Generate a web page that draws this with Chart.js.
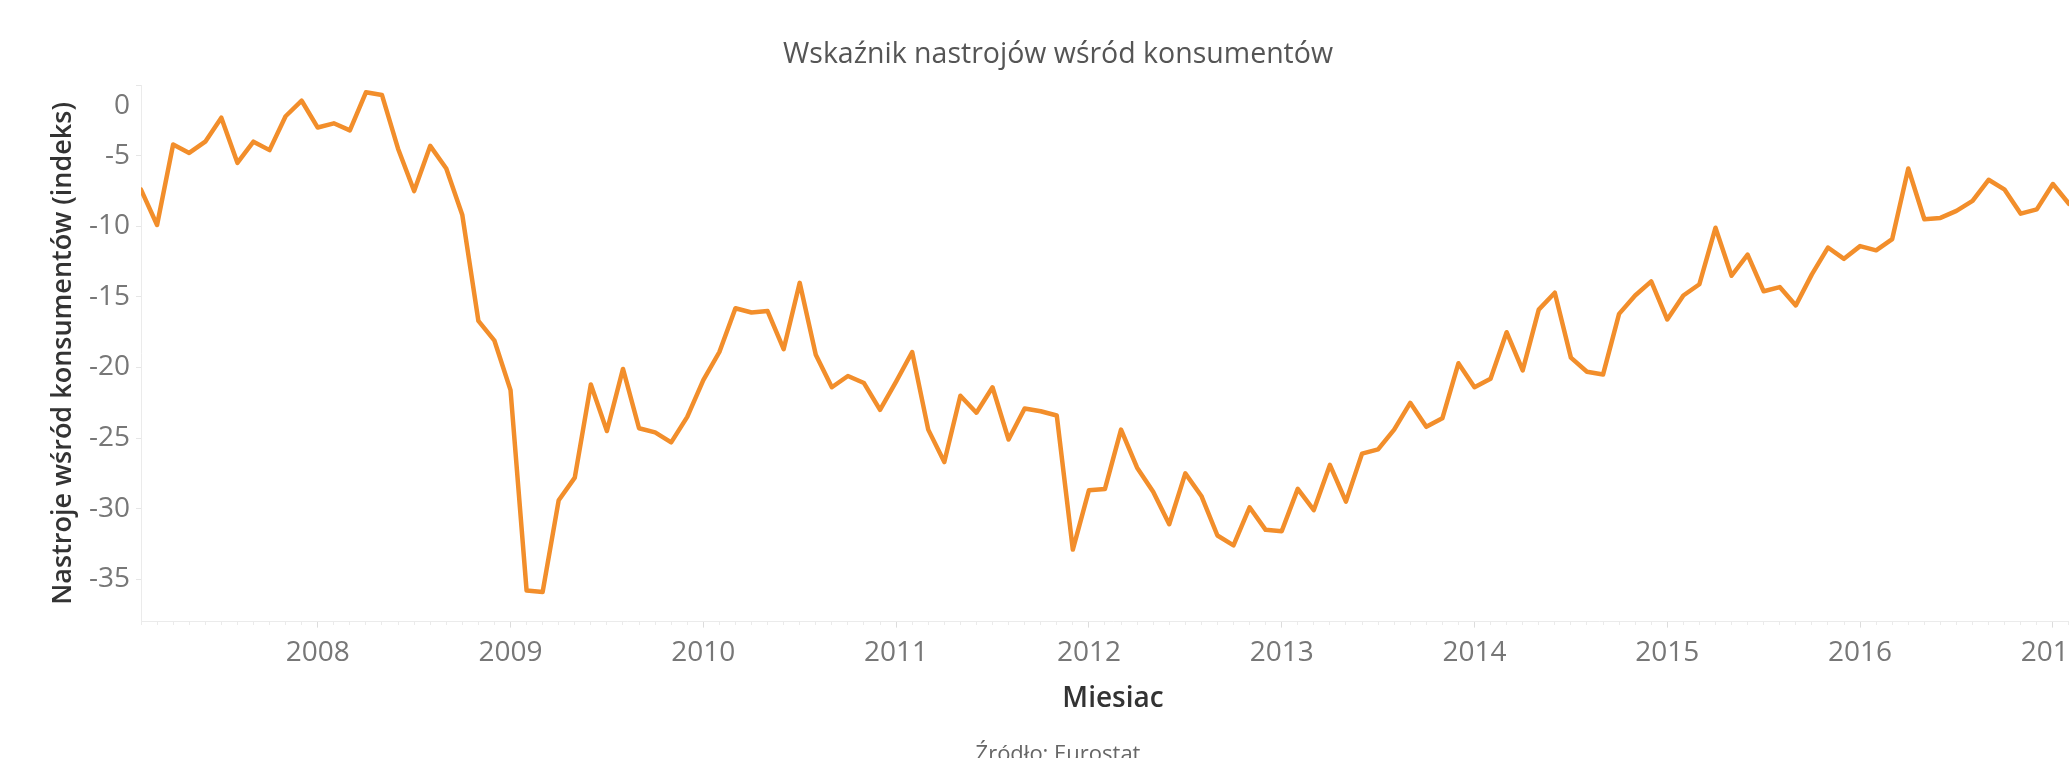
<!DOCTYPE html>
<html lang="pl">
<head>
<meta charset="utf-8">
<title>Wskaźnik nastrojów wśród konsumentów</title>
<script src="https://cdn.jsdelivr.net/npm/chart.js@4"></script>
<style>
  html, body { margin: 0; padding: 0; background: #fff; overflow: hidden; }
  #wrap { position: absolute; left: 0; top: 0; width: 2116px; height: 780px; }
</style>
</head>
<body>
<div id="wrap"><canvas id="chart" width="2116" height="780"></canvas></div>
<script>
// monthly series, first value = Feb 2007
const startYear = 2007;
const startMonth = 2;
const values = [
  -7.4, -9.9, -4.2, -4.8, -4.0, -2.3, -5.5, -4.0, -4.6, -2.2, -1.1,
  -3.0, -2.7, -3.2, -0.5, -0.7, -4.5, -7.5, -4.3, -5.9, -9.2, -16.7, -18.1,
  -21.6, -35.8, -35.9, -29.4, -27.8, -21.2, -24.5, -20.1, -24.3, -24.6, -25.3, -23.5,
  -20.9, -18.9, -15.8, -16.1, -16.0, -18.7, -14.0, -19.1, -21.4, -20.6, -21.1, -23.0,
  -21.0, -18.9, -24.4, -26.7, -22.0, -23.2, -21.4, -25.1, -22.9, -23.1, -23.4, -32.9,
  -28.7, -28.6, -24.4, -27.1, -28.8, -31.1, -27.5, -29.1, -31.9, -32.6, -29.9, -31.5,
  -31.6, -28.6, -30.1, -26.9, -29.5, -26.1, -25.8, -24.4, -22.5, -24.2, -23.6, -19.7,
  -21.4, -20.8, -17.5, -20.2, -15.9, -14.7, -19.3, -20.3, -20.5, -16.2, -14.9, -13.9,
  -16.6, -14.9, -14.1, -10.1, -13.5, -12.0, -14.6, -14.3, -15.6, -13.4, -11.5, -12.3,
  -11.4, -11.7, -10.9, -5.9, -9.5, -9.4, -8.9, -8.2, -6.7, -7.4, -9.1, -8.8,
  -7.0, -8.4
];
const yearLabels = ["2008", "2009", "2010", "2011", "2012", "2013", "2014", "2015", "2016", "2017"];
const yTicks = [0, -5, -10, -15, -20, -25, -30, -35];
const yMin = -38;
const yMax = 0;

// month -> decimal year
function monthPos(i) {
  return startYear + (startMonth - 1 + i) / 12;
}
const points = values.map((v, i) => ({ x: monthPos(i), y: v }));
const xMin = monthPos(0);
const xMax = monthPos(values.length); // axis runs one month past the last value

function isJanuary(v) {
  return Math.abs(v - Math.round(v)) < 1e-6;
}

const fontFamily = "'Open Sans', 'Noto Sans', sans-serif";

new Chart(document.getElementById("chart"), {
  type: "line",
  data: {
    datasets: [{
      data: points,
      borderColor: "#f28e2b",
      borderWidth: 4.5,
      borderJoinStyle: "round",
      borderCapStyle: "round",
      pointRadius: 0,
      tension: 0,
      fill: false
    }]
  },
  options: {
    responsive: false,
    animation: false,
    layout: { padding: { top: 0, right: 31, bottom: 12, left: 31 } },
    plugins: {
      legend: { display: false },
      tooltip: { enabled: false },
      title: {
        display: true,
        text: "Wskaźnik nastrojów wśród konsumentów",
        color: "#555",
        font: { family: fontFamily, size: 28.5, weight: "normal" },
        padding: { top: 38, bottom: 13 }
      },
      subtitle: {
        display: true,
        position: "bottom",
        text: "Źródło: Eurostat",
        color: "#666",
        font: { family: fontFamily, size: 22, weight: "normal" },
        padding: { top: 26, bottom: 0 }
      }
    },
    scales: {
      x: {
        type: "linear",
        min: xMin,
        max: xMax,
        afterBuildTicks: axis => {
          const t = [];
          for (let i = 0; i <= values.length; i++) t.push({ value: monthPos(i) });
          axis.ticks = t;
        },
        afterFit: axis => { axis.height = 94; },
        border: { display: true, color: "#ebebeb", width: 1 },
        grid: {
          drawOnChartArea: false,
          drawTicks: true,
          tickLength: 6,
          tickColor: ctx => (ctx.tick && isJanuary(ctx.tick.value)) ? "#dcdcdc" : "#ebebeb",
          tickBorderDash: ctx => (ctx.tick && isJanuary(ctx.tick.value)) ? [] : [3, 20]
        },
        ticks: {
          autoSkip: false,
          maxRotation: 0,
          padding: 9,
          color: "#777",
          font: { family: fontFamily, size: 28 },
          callback: v => {
            if (!isJanuary(v)) return "";
            const s = String(Math.round(v));
            return yearLabels.includes(s) ? s : "";
          }
        },
        title: {
          display: true,
          text: "Miesiac",
          color: "#333",
          font: { family: fontFamily, size: 28, weight: "600" },
          padding: { top: 16, bottom: 0 }
        }
      },
      y: {
        type: "linear",
        min: yMin,
        max: yMax,
        afterBuildTicks: axis => {
          axis.ticks = yTicks.map(v => ({ value: v }));
        },
        afterFit: axis => { axis.width = 110; },
        border: { display: true, color: "#ebebeb", width: 1 },
        grid: {
          drawOnChartArea: false,
          drawTicks: true,
          tickLength: 5,
          tickColor: "#e6e6e6"
        },
        ticks: {
          autoSkip: false,
          padding: 6,
          color: "#777",
          font: ctx => ({
            family: fontFamily,
            size: 28,
            lineHeight: (ctx.tick && ctx.tick.value === 0) ? 1.5 : 1.2
          }),
          // top label sits just under the axis top
          callback: v => (v === 0 ? ["", "0"] : String(v))
        },
        title: {
          display: true,
          text: "Nastroje wśród konsumentów (indeks)",
          color: "#333",
          font: { family: fontFamily, size: 27, weight: "600" },
          padding: { top: 16, bottom: 16 }
        }
      }
    }
  }
});
</script>
</body>
</html>
